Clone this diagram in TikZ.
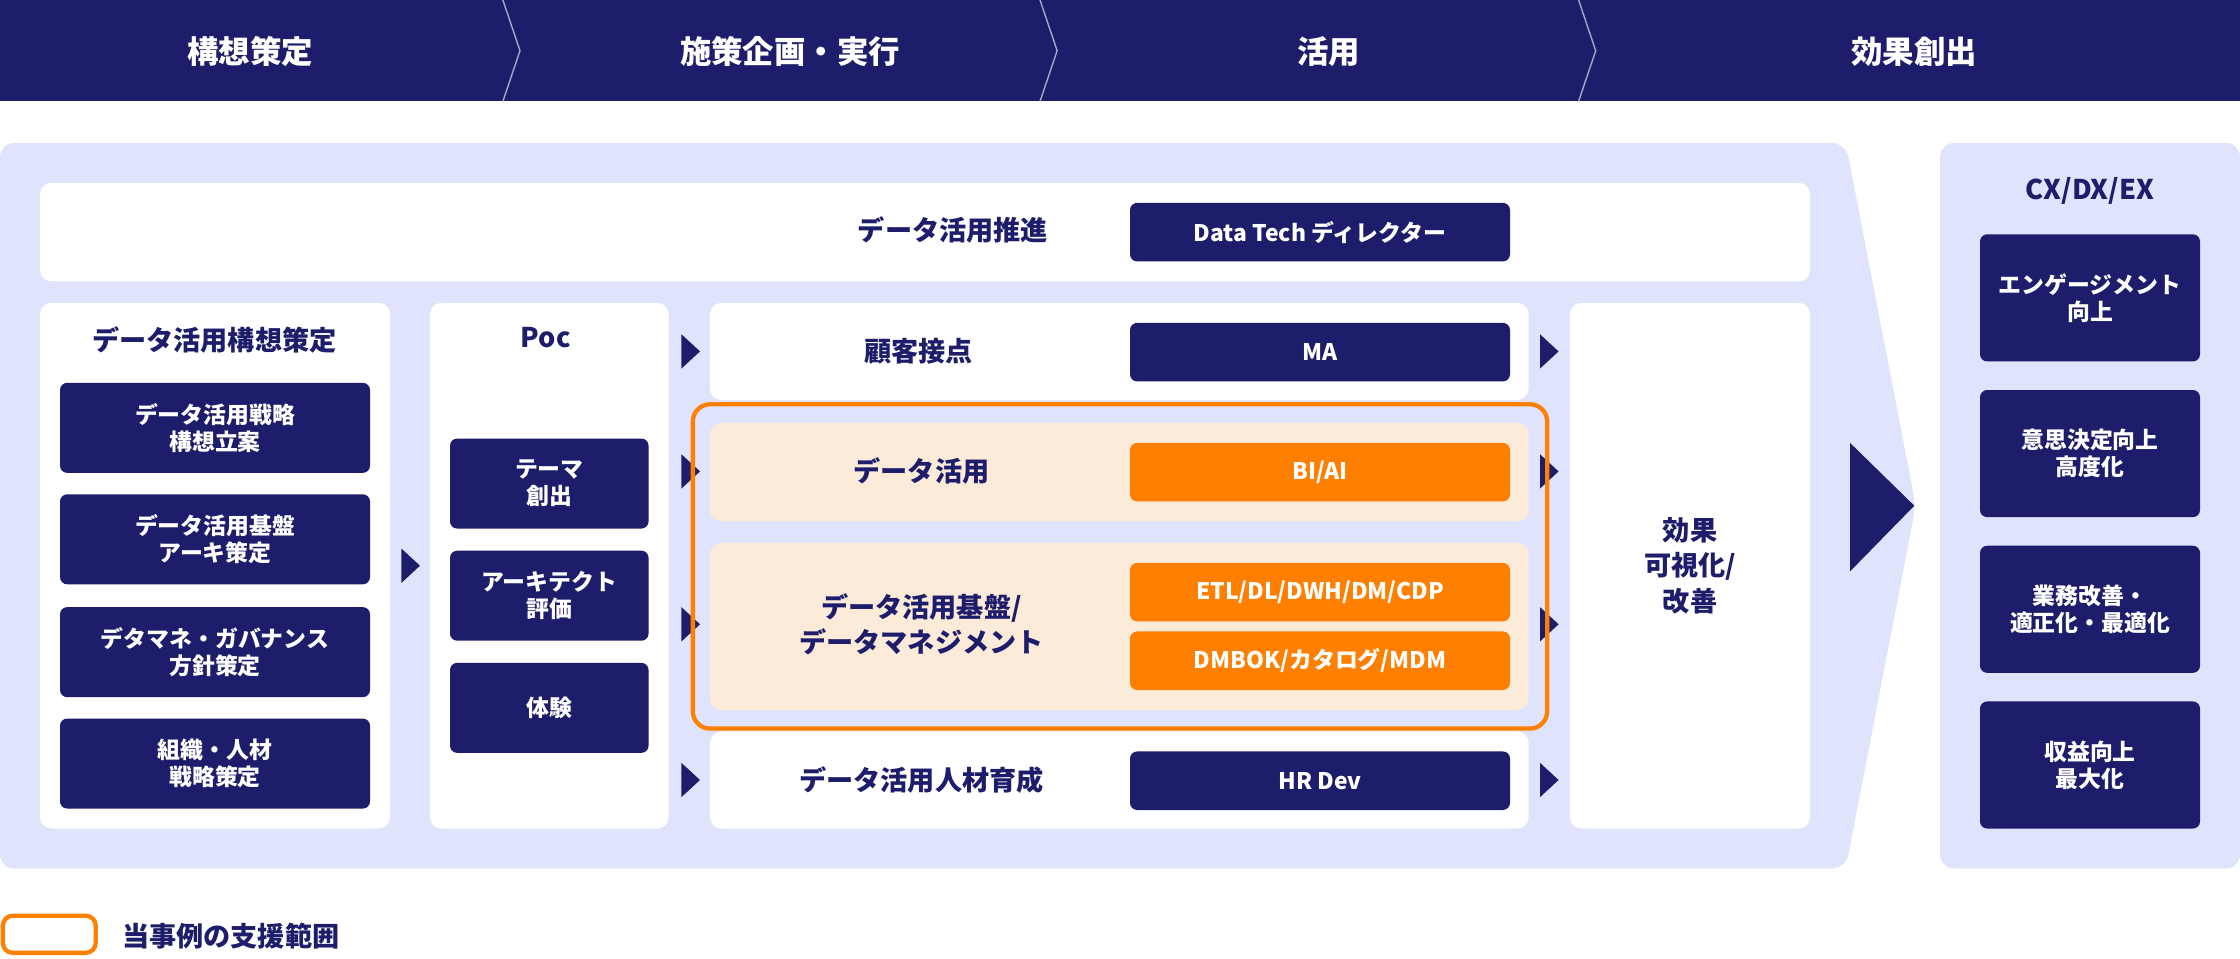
\documentclass[tikz,border=0pt]{standalone}
\usepackage{fontspec}
\setmainfont{Noto Sans CJK JP}
\usetikzlibrary{positioning}
\definecolor{navy}{HTML}{1D1D6B}
\definecolor{pale}{HTML}{DFE3FB}
\definecolor{peach}{HTML}{FDEBDA}
\definecolor{orng}{HTML}{FF7F00}
\tikzset{
  panel/.style={fill=white, rounded corners=8pt},
  navybox/.style={fill=navy, text=white, rounded corners=5pt, font=\fontsize{16}{19}\selectfont\bfseries, align=center, inner sep=0pt},
  tagbox/.style={navybox, minimum width=266pt, minimum height=41pt},
  orangebox/.style={tagbox, fill=orng},
  lbl/.style={text=navy, font=\fontsize{19}{25}\selectfont\bfseries, align=center},
  tri/.style={fill=navy}
}
\newcommand{\tri}[2]{\fill[navy] (#1,#2-12) -- (#1+13,#2) -- (#1,#2+12) -- cycle;}
\begin{document}
\begin{tikzpicture}[x=1pt,y=-1pt]
\useasboundingbox (0,0) rectangle (1568,671);
% header band
\fill[navy] (0,0) rectangle (1568,71);
\foreach \x in {352,728,1105}{
  \draw[white!60!navy, line width=1pt] (\x,0) -- (\x+12,35.5) -- (\x,71);
}
\foreach \x/\t in {175/構想策定, 553/施策企画・実行, 930/活用/運用, 1340/効果創出}{
  \node[text=white, font=\fontsize{22}{26}\selectfont\bfseries] at (\x,36) {\t};
}
% background panels
\fill[pale, rounded corners=10pt] (0,100) -- (1292,100) -- (1341,354) -- (1292,608) -- (0,608) -- cycle;
\fill[pale, rounded corners=10pt] (1358,100) rectangle (1568,608);
\fill[navy] (1295,310) -- (1340,354) -- (1295,400) -- cycle;
% top row
\fill[panel] (28,128) rectangle (1267,197);
\node[lbl] (promo) at (667,161) {データ活用推進};
\node[tagbox] (dtech) at (924,162.5) {Data Tech ディレクター};
% concept column
\fill[panel] (28,212) rectangle (273,580);
\node[lbl] (concept) at (150,238) {データ活用構想策定};
\foreach \y/\t [count=\i] in {299.5/データ活用戦略\\構想立案, 377.5/データ活用基盤\\アーキ策定, 456.5/デタマネ・ガバナンス\\方針策定, 534.5/組織・人材\\戦略策定}{
  \node[navybox, minimum width=217pt, minimum height=63pt] (c\i) at (150.5,\y) {\t};
}
\tri{281}{396}
% poc column
\fill[panel] (301,212) rectangle (468,580);
\node[lbl] (poc) at (382,236) {Poc};
\foreach \y/\t [count=\i] in {338.5/テーマ\\創出, 417/アーキテクト\\評価, 495.5/体験}{
  \node[navybox, minimum width=139pt, minimum height=63pt] (p\i) at (384.5,\y) {\t};
}
\foreach \y in {246,330,437,546}{ \tri{477}{\y} \tri{1078}{\y} }
% middle rows
\fill[panel] (497,212) rectangle (1070,280);
\node[lbl] (touch) at (643,246) {顧客接点};
\node[tagbox] (ma) at (924,246.5) {MA};
\fill[peach, rounded corners=8pt] (497,296) rectangle (1070,365);
\node[lbl] (use) at (645,330) {データ活用};
\node[orangebox] (biai) at (924,330.5) {BI/AI};
\fill[peach, rounded corners=8pt] (497,380) rectangle (1070,497);
\node[lbl] (base) at (645,437) {データ活用基盤/\\データマネジメント};
\node[orangebox] (etl) at (924,414.5) {ETL/DL/DWH/DM/CDP};
\node[orangebox] (dmbok) at (924,462.5) {DMBOK/カタログ/MDM};
\fill[panel] (497,512) rectangle (1070,580);
\node[lbl] (hr) at (645,546) {データ活用人材育成};
\node[tagbox] (hrdev) at (924,546.5) {HR Dev};
\draw[orng, line width=3pt, rounded corners=12pt] (485,283) rectangle (1083,510);
% effect column
\fill[panel] (1099,212) rectangle (1267,580);
\node[lbl] (effect) at (1183,396) {効果\\可視化/\\改善};
% outcomes
\node[lbl] (cx) at (1463,134) {CX/DX/EX};
\foreach \y/\t [count=\i] in {208.5/エンゲージメント\\向上, 317.5/意思決定向上\\高度化, 426.5/業務改善・\\適正化・最適化, 535.5/収益向上\\最大化}{
  \node[navybox, minimum width=154pt, minimum height=89pt] (o\i) at (1463,\y) {\t};
}
% legend
\draw[orng, line width=3pt, rounded corners=7pt] (2,641) rectangle (67,667);
\node[lbl, anchor=west] (legend) at (82,655) {当事例の支援範囲};
\end{tikzpicture}
\end{document}
